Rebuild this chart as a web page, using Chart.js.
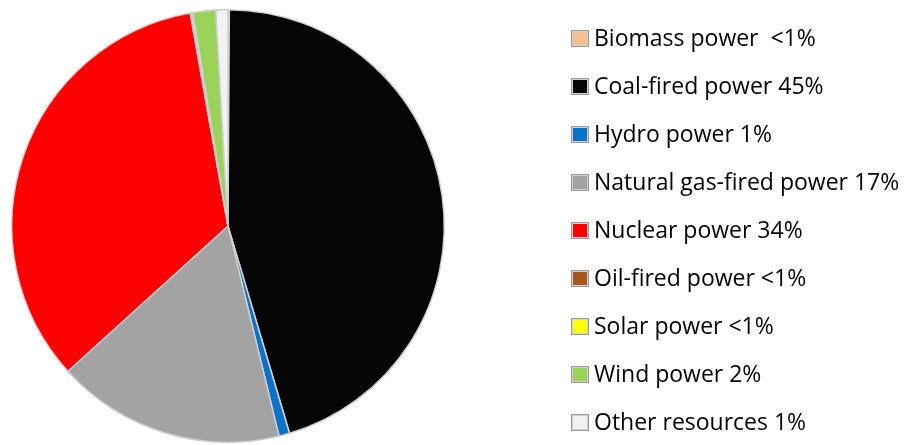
<!DOCTYPE html>
<html>
<head>
<meta charset="utf-8">
<script src="https://cdn.jsdelivr.net/npm/chart.js@4.4.1/dist/chart.umd.min.js"></script>
<style>
html,body{margin:0;padding:0;background:#fff;}
#wrap{position:relative;width:904px;height:445px;}
</style>
</head>
<body>
<div id="wrap"><canvas id="c" width="904" height="445"></canvas></div>
<script>
const categories = ["Biomass power", "Coal-fired power", "Hydro power", "Natural gas-fired power", "Nuclear power", "Oil-fired power", "Solar power", "Wind power", "Other resources"];
const shares = [0.1, 45.4, 0.8, 17.1, 34.0, 0.1, 0.1, 1.7, 0.9];
const shareLabels = [" <1%", "45%", "1%", "17%", "34%", "<1%", "<1%", "2%", "1%"];
const colors = ["#f7c08f", "#050505", "#0a72c8", "#a3a3a3", "#ff0000", "#a8561c", "#ffff00", "#9bd35a", "#f2f2f2"];

const sideLegend = {
  id: 'sideLegend',
  afterDraw(chart) {
    const ctx = chart.ctx;
    const labels = chart.data.labels;
    const ds = chart.data.datasets[0];
    ctx.save();
    ctx.font = '23px "Open Sans"';
    ctx.textBaseline = 'middle';
    labels.forEach((lab, i) => {
      const y = 38 + i * 48.1;
      const bx = 571, bw = 18, bh = 17;
      const by = Math.round(y - bh / 2);
      ctx.fillStyle = '#d0d0d0';
      ctx.fillRect(bx, by, bw, bh);
      ctx.fillStyle = ds.backgroundColor[i];
      ctx.fillRect(bx + 2, by + 2, bw - 4, bh - 4);
      ctx.strokeStyle = '#9a9a9a';
      ctx.lineWidth = 1;
      ctx.strokeRect(bx + 0.5, by + 0.5, bw - 1, bh - 1);
      ctx.fillStyle = '#000';
      ctx.fillText(lab + ' ' + shareLabels[i], 594, y + 1);
    });
    ctx.restore();
  }
};

new Chart(document.getElementById('c'), {
  type: 'pie',
  data: {
    labels: categories,
    datasets: [{
      data: shares,
      backgroundColor: colors,
      borderColor: '#cfcfcf',
      borderWidth: 1.5
    }]
  },
  options: {
    responsive: false,
    animation: false,
    layout: { padding: { left: 11, right: 459, top: 9, bottom: 2 } },
    plugins: {
      legend: { display: false },
      tooltip: { enabled: false }
    }
  },
  plugins: [sideLegend]
});
</script>
</body>
</html>
